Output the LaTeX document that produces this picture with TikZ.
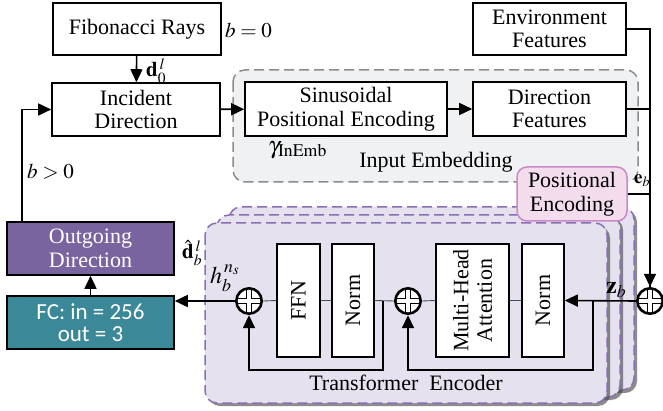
\documentclass[tikz,border=0pt]{standalone}
\usepackage{mathptmx}
\usepackage{fontspec}
\setmainfont{Liberation Serif}
\newfontfamily\fcfont{Carlito}
\usetikzlibrary{arrows.meta,shadows,calc}

\definecolor{embfill}{HTML}{F0F1F3}
\definecolor{embline}{HTML}{8C8C8C}
\definecolor{trfill}{HTML}{E5E1EE}
\definecolor{trline}{HTML}{8A6FB5}
\definecolor{pefill}{HTML}{F3DCEC}
\definecolor{peline}{HTML}{C88BC6}
\definecolor{outfill}{HTML}{7A64A0}
\definecolor{fcfill}{HTML}{3B8898}

\tikzset{
  base/.style={draw=black, line width=1.6pt, align=center, inner sep=0pt,
    font=\fontsize{22}{23.5}\selectfont},
  blk/.style={base, fill=white},
  vblk/.style={base, fill=white, minimum width=#1, minimum height=113},
  vtext/.style={rotate=90, align=center, font=\fontsize{22}{23.5}\selectfont},
  layer/.style={draw=trline, fill=trfill, line width=1.5pt,
    dash pattern=on 10pt off 5pt, rounded corners=12pt},
  layershadow/.style={layer, drop shadow={shadow xshift=3pt, shadow yshift=-3pt,
    opacity=0.6, fill=black!75}},
  conn/.style={line width=1.6pt},
  arr/.style={conn, -{Triangle[length=13pt,width=12pt]}},
  thin/.style={line width=0.9pt, draw=black!70},
  plusnode/.style={circle, fill=white, minimum size=28, inner sep=0pt},
  lbl/.style={font=\fontsize{21}{22}\selectfont, inner sep=0pt},
}

\begin{document}
\begin{tikzpicture}[x=1pt,y=-1pt]
\useasboundingbox (0,0) rectangle (663,411);

% input embedding group
\draw[fill=embfill, draw=embline, line width=1.5pt, dash pattern=on 10pt off 5pt,
  rounded corners=12pt] (233,70) rectangle (638,182);
\node[font=\fontsize{22}{23.5}\selectfont] (embtitle) at (436,162) {Input Embedding};

% stacked transformer encoder layers
\draw[layershadow] (229,207) rectangle (634,390);
\draw[layershadow] (217,215) rectangle (620,397);
\draw[layershadow] (205,223) rectangle (607,403);
\node[font=\fontsize{22}{23.5}\selectfont] (trtitle) at (406,383) {Transformer\ \ Encoder};

% top row
\node[blk, minimum width=168, minimum height=52] (fib) at (137,29) {Fibonacci Rays};
\node[blk, minimum width=168, minimum height=53] (inc) at (136,109.5) {Incident\\Direction};
\node[blk, minimum width=202, minimum height=54] (sin) at (346,109) {Sinusoidal\\Positional Encoding};
\node[blk, minimum width=153, minimum height=54] (dir) at (549.5,109) {Direction\\Features};
\node[blk, minimum width=153, minimum height=52] (env) at (549.5,29) {Environment\\Features};

% positional encoding
\node[base, draw=peline, fill=pefill, line width=1.5pt, rounded corners=10pt,
  minimum width=110, minimum height=54] (pe) at (572,194) {Positional\\Encoding};

% output head
\node[blk, fill=outfill, text=white, minimum width=167, minimum height=53] (out) at (90.5,248.5) {Outgoing\\Direction};
\node[blk, fill=fcfill, text=white, minimum width=167, minimum height=53,
  font=\fcfont\fontsize{23}{22}\selectfont] (fc) at (90.5,322.5) {FC: in = 256\\out = 3};

% encoder blocks
\node[vblk=43] (ffn) at (298.5,300.5) {};
\node[vtext] at (ffn.center) {FFN};
\node[vblk=42] (norma) at (353,300.5) {};
\node[vtext] at (norma.center) {Norm};
\node[vblk=73] (mha) at (472.5,300.5) {};
\node[vtext] at (mha.center) {Multi-Head\\Attention};
\node[vblk=42] (normb) at (543,300.5) {};
\node[vtext] at (normb.center) {Norm};

% adders: thick ring with an outlined plus
\foreach \n/\x in {addl/249, addm/408, addr/650}{
  \node[plusnode] (\n) at (\x,301) {};
  \draw[line width=1.3pt, double=white, double distance=4pt]
    ($(\n.center)+(-12,0)$) -- ($(\n.center)+(12,0)$)
    ($(\n.center)+(0,-12)$) -- ($(\n.center)+(0,12)$);
  \draw[line width=2.6pt] (\n) circle (12.7);
}

% connectors, top part
\draw[arr] (fib) -- (inc);
\draw[arr] (inc) -- (sin);
\draw[arr] (sin) -- (dir);
\draw[conn] (env.east) -| (addr.north);
\draw[arr] (addr.north |- dir.east) -- (addr.north);
\draw[conn] (dir.east) -- (dir.east -| addr.north);
\draw[conn] (pe.east) -- (pe.east -| addr.north);

% connectors, encoder
\draw[arr] (addr.west) -- (normb.east);
\draw[thin] (normb.west) -- (mha.east);
\draw[thin] (mha.west) -- (addm.east);
\draw[thin] (addm.west) -- (norma.east);
\draw[thin] (norma.west) -- (ffn.east);
\draw[thin] (ffn.west) -- (addl.east);
\coordinate (skipa) at (593,301);
\coordinate (skipb) at (383,301);
\draw[arr] (skipa) -- ++(0,69) -| (addm.south);
\draw[arr] (skipb) -- ++(0,69) -| (addl.south);

% connectors, output head
\draw[arr] (addl.west) -- (addl.west -| fc.east);
\draw[arr] (fc) -- (out);
\coordinate (loopx) at (22,109.5);
\draw[arr] (out.north -| loopx) -- (loopx) -- (inc.west);

% labels
\node[lbl, anchor=west] at (225,30) {$b=0$};
\node[lbl, anchor=west] at (146,71) {$\mathbf{d}_0^{\,l}$};
\node[lbl, anchor=west] at (27,172) {$b>0$};
\node[lbl, anchor=north west, font=\fontsize{24}{25}\selectfont] at (268,141) {$\gamma_{\mathrm{InEmb}}$};
\node[lbl, anchor=west, font=\fontsize{19}{20}\selectfont] at (634,181) {$\mathbf{e}_b$};
\node[lbl, anchor=west, font=\fontsize{24}{25}\selectfont] at (606,290) {$\mathbf{z}_b$};
\node[lbl, anchor=west] at (182,253) {$\hat{\mathbf{d}}_b^{\,l}$};
\node[lbl, anchor=west, font=\fontsize{24}{25}\selectfont] at (210,278) {$h_b^{\,n_s}$};
\end{tikzpicture}
\end{document}
